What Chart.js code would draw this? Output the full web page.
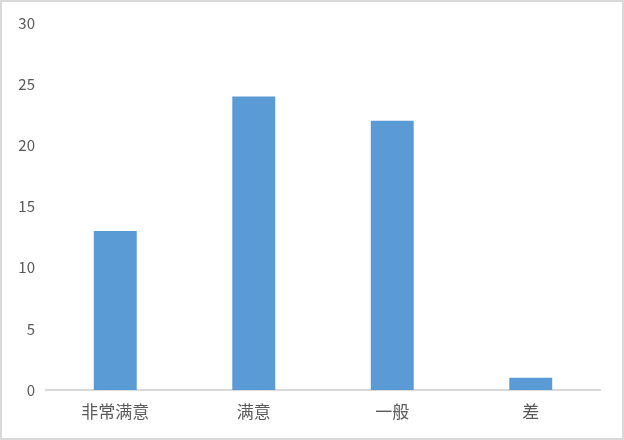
<!DOCTYPE html>
<html>
<head>
<meta charset="utf-8">
<script src="https://cdn.jsdelivr.net/npm/chart.js@4.4.0/dist/chart.umd.min.js"></script>
<style>
  html, body { margin: 0; padding: 0; background: #fff; }
  #wrap { width: 624px; height: 440px; box-sizing: border-box; border: 2px solid #d9d9d9; background: #fff; }
  canvas { display: block; }
</style>
</head>
<body>
<div id="wrap"><canvas id="chart" width="620" height="436"></canvas></div>
<script>
  // satisfaction survey counts
  const categories = ['非常满意', '满意', '一般', '差'];
  const counts = [13, 24, 22, 1];
  const yTicks = [0, 5, 10, 15, 20, 25, 30];

  const FONT = "'Noto Sans CJK SC', 'DejaVu Sans', sans-serif";
  const TEXT = '#595959';

  new Chart(document.getElementById('chart'), {
    type: 'bar',
    data: {
      labels: categories,
      datasets: [{ data: counts, backgroundColor: '#5b9bd5', borderWidth: 0, categoryPercentage: 1, barPercentage: 0.31 }]
    },
    options: {
      responsive: false, animation: false,
      layout: { padding: { left: 0, right: 22, top: 21, bottom: 0 } },
      plugins: { legend: { display: false }, tooltip: { enabled: false } },
      scales: {
        x: {
          grid: { display: false, drawTicks: false },
          border: { color: '#d9d9d9', width: 2 },
          ticks: { color: TEXT, font: { family: FONT, size: 17 }, padding: 11 },
          afterFit: s => { s.height = 48; }
        },
        y: {
          min: 0, max: 30,
          afterBuildTicks: s => { s.ticks = yTicks.map(v => ({ value: v })); },
          grid: { display: false, drawTicks: false },
          border: { display: false },
          ticks: { color: TEXT, font: { family: FONT, size: 15 }, padding: 11 },
          afterFit: s => { s.width = 44; }
        }
      }
    }
  });
</script>
</body>
</html>
